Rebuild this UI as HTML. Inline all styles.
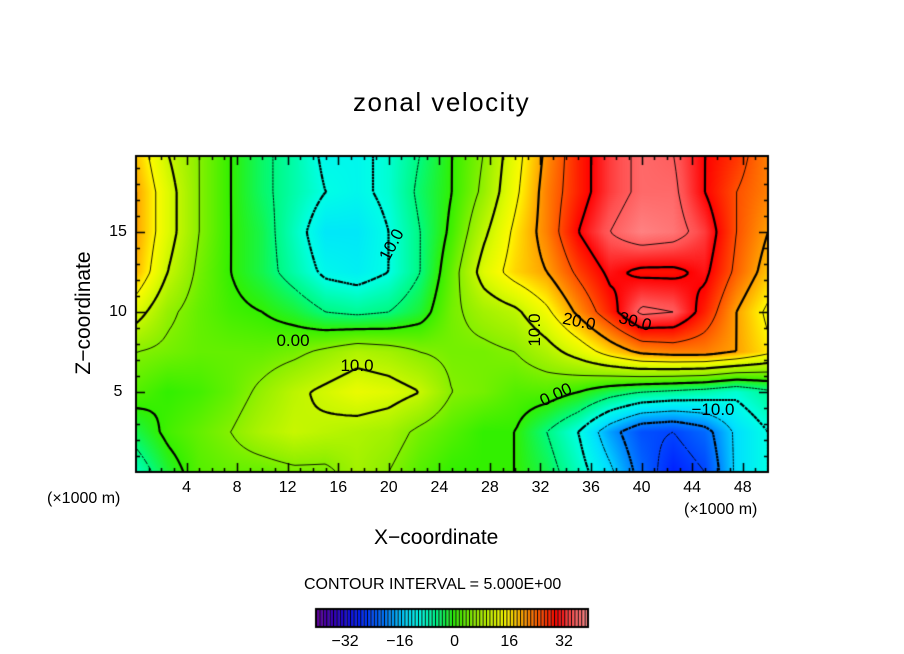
<!DOCTYPE html>
<html><head><meta charset="utf-8"><style>
html,body{margin:0;padding:0;background:#fff;}
#wrap{position:relative;width:904px;height:654px;overflow:hidden;font-family:"Liberation Sans",sans-serif;color:#000;}
.t{position:absolute;white-space:nowrap;}
canvas{position:absolute;left:0;top:0;}
</style></head><body>
<div id="wrap">
<canvas id="cv" width="904" height="654"></canvas>
<div class="t" style="left:353px;top:87px;font-size:26px;letter-spacing:1.5px;">zonal velocity</div>
<div class="t" style="left:374px;top:526px;font-size:21px;">X−coordinate</div>
<div class="t" style="left:84px;top:313px;font-size:21px;transform:translate(-50%,-50%) rotate(-90deg);">Z−coordinate</div>
<div class="t" style="left:47px;top:490px;font-size:16px;">(×1000 m)</div>
<div class="t" style="left:684px;top:501px;font-size:16px;">(×1000 m)</div>
<div class="t" style="left:304px;top:576px;font-size:16px;">CONTOUR INTERVAL = 5.000E+00</div>
<div id="labels"></div>
</div>
<script>
const xCoords=[0,2.5,5,7.5,10,12.5,15,17.5,20,22.5,25,27.5,30,32.5,35,37.5,40,42.5,45,47.5,50];
const zCoords=[20,17.5,15,12.5,10,7.5,5,2.5,0];
const row20 =[18,10,5,0,-4,-7,-11,-11,-9,-5,0,5,13,21,28,33,36,35,30,27,22];
const row175=[20,12,5,0,-4,-7,-10,-11,-9,-4,0,6,14,22,28,33,36,36,30,25,22];
const row15 =[20,12,5,0,-3,-8,-13,-13,-10,-5,1,9,16,22,30,35,38,37,33,25,20];
const row125=[19,10,4,0,-3,-7,-11,-12,-10,-5,3,12,17,20,26,31,29,29,31,24,18];
const row10 =[12,6,3,1,0,-2,-5,-6,-5,-2,4,7,9,14,21,28,36,35,28,20,14];
const row75 =[5,4,3,3,3,4,6,8,7,5,4,4,5,8,12,17,21,22,22,20,16];
const row5  =[2,0,1,3,6,9,11,13,12,10,5,4,2,2,0,-3,-5,-6,-7,-9,-6];
const row25 =[-3,1,3,5,8,10,9,8,7,4,2,0,0,-5,-10,-18,-24,-25,-22,-14,-10];
const row0  =[-8,-2,2,3,3,4,4,7,5,2,0,0,0,-3,-8,-14,-22,-28,-25,-14,-10];
const rows=[row20,row175,row15,row125,row10,row75,row5,row25,row0];
const xTicks=[4,8,12,16,20,24,28,32,36,40,44,48];
const zTicks=[5,10,15];
const cbTicks=[-32,-16,0,16,32];
const levels=[-30,-25,-20,-15,-10,-5,0,5,10,15,20,25,30,35];

const L=136,R=768,T=156,B=472,X0=0,X1=50,Z0=0,Z1=19.75;
const sx=x=>L+(x-X0)/(X1-X0)*(R-L);
const sz=z=>B-(z-Z0)/(Z1-Z0)*(B-T);
function val(x,z){
  let i=0;while(i<xCoords.length-2&&x>xCoords[i+1])i++;
  let j=0;while(j<zCoords.length-2&&z<zCoords[j+1])j++;
  const tx=Math.max(0,Math.min(1,(x-xCoords[i])/(xCoords[i+1]-xCoords[i])));
  const tz=Math.max(0,Math.min(1,(z-zCoords[j])/(zCoords[j+1]-zCoords[j])));
  const a=rows[j][i],b=rows[j][i+1],c=rows[j+1][i],d=rows[j+1][i+1];
  return (a*(1-tx)+b*tx)*(1-tz)+(c*(1-tx)+d*tx)*tz;
}
const stops=[[-40,[96,0,160]],[-34,[40,0,200]],[-28,[0,32,255]],[-20,[0,128,255]],[-14,[0,224,255]],[-10,[0,255,230]],[-5,[0,250,128]],[0,[50,240,0]],[6,[150,240,0]],[12,[224,250,0]],[15,[255,250,0]],[20,[255,160,0]],[26,[255,64,0]],[30,[255,0,0]],[34,[255,80,80]],[40,[255,155,155]]];
function col(v){
  if(v<=stops[0][0])return stops[0][1];
  for(let k=0;k<stops.length-1;k++){if(v<=stops[k+1][0]){const t=(v-stops[k][0])/(stops[k+1][0]-stops[k][0]);return stops[k][1].map((c,m)=>Math.round(c+(stops[k+1][1][m]-c)*t));}}
  return stops[stops.length-1][1];
}
const cv=document.getElementById('cv'),ctx=cv.getContext('2d');
const img=ctx.createImageData(R-L,B-T);
for(let py=0;py<B-T;py++)for(let px=0;px<R-L;px++){
  const x=X0+(px+0.5)/(R-L)*(X1-X0),z=Z1-(py+0.5)/(B-T)*(Z1-Z0);
  const c=col(val(x,z));const o=(py*(R-L)+px)*4;
  img.data[o]=c[0];img.data[o+1]=c[1];img.data[o+2]=c[2];img.data[o+3]=255;}
ctx.putImageData(img,L,T);
const st=3,nx=Math.ceil((R-L)/st),nz=Math.ceil((B-T)/st);
const G=[];for(let j=0;j<=nz;j++){G.push([]);for(let i=0;i<=nx;i++){const px=Math.min(L+i*st,R),py=Math.min(T+j*st,B);G[j].push(val(X0+(px-L)/(R-L)*(X1-X0),Z1-(py-T)/(B-T)*(Z1-Z0)));}}
ctx.save();ctx.beginPath();ctx.rect(L,T,R-L,B-T);ctx.clip();
levels.forEach(lv=>{
  ctx.beginPath();
  for(let j=0;j<nz;j++)for(let i=0;i<nx;i++){
    const x0=L+i*st,y0=T+j*st,x1=Math.min(x0+st,R),y1=Math.min(y0+st,B);
    const v=[G[j][i],G[j][i+1],G[j+1][i+1],G[j+1][i]];
    const P=[[x0,y0],[x1,y0],[x1,y1],[x0,y1]];const pts=[];
    for(let e=0;e<4;e++){const a=v[e],b=v[(e+1)%4];if((a<lv)!==(b<lv)){const t=(lv-a)/(b-a);const p=P[e],q=P[(e+1)%4];pts.push([p[0]+(q[0]-p[0])*t,p[1]+(q[1]-p[1])*t]);}}
    for(let k=0;k+1<pts.length;k+=2){ctx.moveTo(pts[k][0],pts[k][1]);ctx.lineTo(pts[k+1][0],pts[k+1][1]);}
  }
  ctx.lineWidth=(lv%10===0)?2.2:0.9;ctx.strokeStyle='#000';
  ctx.setLineDash(lv<0?[2.5,1.5]:[]);ctx.stroke();
});
ctx.restore();ctx.setLineDash([]);
ctx.strokeStyle='#000';ctx.lineWidth=2;ctx.strokeRect(L,T,R-L,B-T);
ctx.lineWidth=1.5;ctx.beginPath();
for(let x=1;x<50;x++){const big=xTicks.includes(x);const len=big?9:4;const px=Math.round(sx(x))+0.5;ctx.moveTo(px,B);ctx.lineTo(px,B-len);ctx.moveTo(px,T);ctx.lineTo(px,T+len);}
for(let z=1;z<20;z++){const big=zTicks.includes(z);const len=big?9:4;const py=Math.round(sz(z))+0.5;ctx.moveTo(L,py);ctx.lineTo(L+len,py);ctx.moveTo(R,py);ctx.lineTo(R-len,py);}
ctx.stroke();
const CL=316,CR=588,CT=609,CB=627,VMIN=-40.5,VMAX=39;
const n=80;const w=(CR-CL)/n;
for(let k=0;k<n;k++){const v=VMIN+(k+0.5)/n*(VMAX-VMIN);const c=col(v);ctx.fillStyle=`rgb(${c[0]},${c[1]},${c[2]})`;ctx.fillRect(CL+k*w,CT,w,CB-CT);ctx.fillStyle='#000';ctx.fillRect(CL+k*w,CT,1,CB-CT);}
ctx.lineWidth=2;ctx.strokeRect(CL,CT,CR-CL,CB-CT);
const lab=document.getElementById('labels');
function addText(name,txt,x,y,fs,extra){const d=document.createElement('div');d.className='t';


d.textContent=txt;d.style.left=x+'px';d.style.top=y+'px';d.style.fontSize=fs+'px';d.style.transform='translate(-50%,-50%)'+(extra||'');lab.appendChild(d);}
xTicks.forEach(t=>addText('x-tick-label',String(t),sx(t),488,16));
zTicks.forEach(t=>addText('y-tick-label',String(t),118,sz(t),16));
cbTicks.forEach(t=>addText('colorbar-tick-label',(t<0?'−':'')+Math.abs(t),CL+(t-VMIN)/(VMAX-VMIN)*(CR-CL),642,16));
const cl=[['0.00',293,341,0],['10.0',357,366,0],['10.0',392,245,-62],['10.0',535,330,-90],['20.0',579,322,12],['30.0',635,322,15],['0.00',556,395,-25],['−10.0',713,410,0]];
cl.forEach(c=>addText('contour-label',c[0],c[1],c[2],17,' rotate('+c[3]+'deg)'));
</script>
</body></html>
